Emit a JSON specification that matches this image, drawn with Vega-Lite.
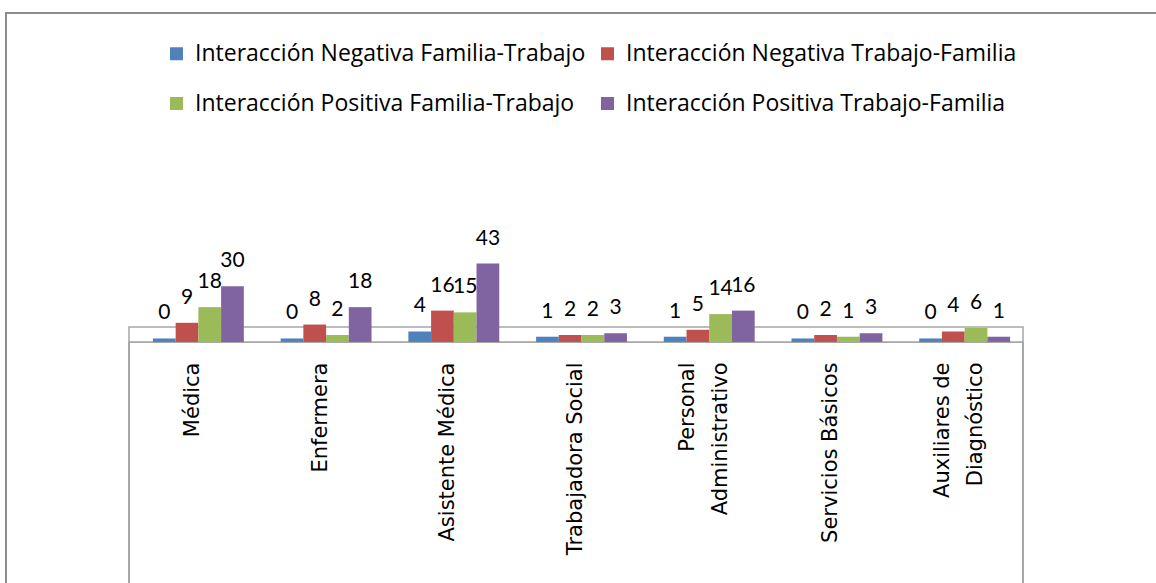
{
  "$schema": "https://vega.github.io/schema/vega-lite/v6.json",
  "width": 1160,
  "height": 590,
  "autosize": {"type": "none"},
  "padding": {"left": 6, "top": 13, "right": 0, "bottom": 0},
  "background": "white",
  "config": {
    "view": {"stroke": "#8c8c8c", "strokeWidth": 2},
    "font": "Lato"
  },
  "datasets": {
    "valores": [
      {"ocupacion": "Médica", "dimension": "Interacción Negativa Familia-Trabajo", "n": 0},
      {"ocupacion": "Médica", "dimension": "Interacción Negativa Trabajo-Familia", "n": 9},
      {"ocupacion": "Médica", "dimension": "Interacción Positiva Familia-Trabajo", "n": 18},
      {"ocupacion": "Médica", "dimension": "Interacción Positiva Trabajo-Familia", "n": 30},
      {"ocupacion": "Enfermera", "dimension": "Interacción Negativa Familia-Trabajo", "n": 0},
      {"ocupacion": "Enfermera", "dimension": "Interacción Negativa Trabajo-Familia", "n": 8},
      {"ocupacion": "Enfermera", "dimension": "Interacción Positiva Familia-Trabajo", "n": 2},
      {"ocupacion": "Enfermera", "dimension": "Interacción Positiva Trabajo-Familia", "n": 18},
      {"ocupacion": "Asistente Médica", "dimension": "Interacción Negativa Familia-Trabajo", "n": 4},
      {"ocupacion": "Asistente Médica", "dimension": "Interacción Negativa Trabajo-Familia", "n": 16},
      {"ocupacion": "Asistente Médica", "dimension": "Interacción Positiva Familia-Trabajo", "n": 15},
      {"ocupacion": "Asistente Médica", "dimension": "Interacción Positiva Trabajo-Familia", "n": 43},
      {"ocupacion": "Trabajadora Social", "dimension": "Interacción Negativa Familia-Trabajo", "n": 1},
      {"ocupacion": "Trabajadora Social", "dimension": "Interacción Negativa Trabajo-Familia", "n": 2},
      {"ocupacion": "Trabajadora Social", "dimension": "Interacción Positiva Familia-Trabajo", "n": 2},
      {"ocupacion": "Trabajadora Social", "dimension": "Interacción Positiva Trabajo-Familia", "n": 3},
      {"ocupacion": "Personal Administrativo", "dimension": "Interacción Negativa Familia-Trabajo", "n": 1},
      {"ocupacion": "Personal Administrativo", "dimension": "Interacción Negativa Trabajo-Familia", "n": 5},
      {"ocupacion": "Personal Administrativo", "dimension": "Interacción Positiva Familia-Trabajo", "n": 14},
      {"ocupacion": "Personal Administrativo", "dimension": "Interacción Positiva Trabajo-Familia", "n": 16},
      {"ocupacion": "Servicios Básicos", "dimension": "Interacción Negativa Familia-Trabajo", "n": 0},
      {"ocupacion": "Servicios Básicos", "dimension": "Interacción Negativa Trabajo-Familia", "n": 2},
      {"ocupacion": "Servicios Básicos", "dimension": "Interacción Positiva Familia-Trabajo", "n": 1},
      {"ocupacion": "Servicios Básicos", "dimension": "Interacción Positiva Trabajo-Familia", "n": 3},
      {"ocupacion": "Auxiliares de Diagnóstico", "dimension": "Interacción Negativa Familia-Trabajo", "n": 0},
      {"ocupacion": "Auxiliares de Diagnóstico", "dimension": "Interacción Negativa Trabajo-Familia", "n": 4},
      {"ocupacion": "Auxiliares de Diagnóstico", "dimension": "Interacción Positiva Familia-Trabajo", "n": 6},
      {"ocupacion": "Auxiliares de Diagnóstico", "dimension": "Interacción Positiva Trabajo-Familia", "n": 1}
    ],
    "marco": [
      {"primera": "Médica", "ultima": "Auxiliares de Diagnóstico"}
    ]
  },
  "layer": [
    {
      "data": {"name": "marco"},
      "mark": {"type": "rect", "fill": "white", "fillOpacity": 0, "stroke": "#8c8c8c", "strokeWidth": 1.5},
      "encoding": {
        "x": {"field": "primera", "type": "nominal", "bandPosition": 0,
              "scale": {"domain": ["Médica", "Enfermera", "Asistente Médica", "Trabajadora Social", "Personal Administrativo", "Servicios Básicos", "Auxiliares de Diagnóstico"], "range": [123, 1017], "paddingInner": 0, "paddingOuter": 0}},
        "x2": {"field": "ultima", "bandPosition": 1},
        "y": {"datum": -152, "type": "quantitative", "axis": null, "scale": {"domain": [-152, 187], "nice": false, "zero": false}},
        "y2": {"datum": -2}
      }
    },
    {
      "data": {"name": "marco"},
      "mark": {"type": "rect", "fill": "white", "stroke": "#a6a6a6", "strokeWidth": 1.5},
      "encoding": {
        "x": {"field": "primera", "type": "nominal", "bandPosition": 0,
              "scale": {"domain": ["Médica", "Enfermera", "Asistente Médica", "Trabajadora Social", "Personal Administrativo", "Servicios Básicos", "Auxiliares de Diagnóstico"], "range": [123, 1017], "paddingInner": 0, "paddingOuter": 0}},
        "x2": {"field": "ultima", "bandPosition": 1},
        "y": {"datum": -2, "type": "quantitative", "axis": null, "scale": {"domain": [-152, 187], "nice": false, "zero": false}},
        "y2": {"datum": 6.6}
      }
    },
    {
      "data": {"name": "valores"},
      "mark": {"type": "bar"},
      "encoding": {
        "x": {"field": "ocupacion", "type": "nominal",
              "scale": {"domain": ["Médica", "Enfermera", "Asistente Médica", "Trabajadora Social", "Personal Administrativo", "Servicios Básicos", "Auxiliares de Diagnóstico"], "range": [123, 1017], "paddingInner": 0, "paddingOuter": 0},
              "axis": {"orient": "bottom", "offset": -261, "domain": false, "ticks": false, "tickSize": 0, "grid": false, "title": null,
                       "labelPadding": 20, "labelAngle": -90, "labelFont": "DejaVu Sans", "labelFontSize": 21, "labelColor": "black",
                       "labelLimit": 400, "labelOverlap": false, "labelLineHeight": 33, "zindex": 1,
                       "labelOffset": {"condition": {"test": "datum.value == 'Personal Administrativo' || datum.value == 'Auxiliares de Diagnóstico'", "value": -16}, "value": 0},
                       "labelExpr": "datum.label == 'Personal Administrativo' ? ['Personal', 'Administrativo'] : datum.label == 'Auxiliares de Diagnóstico' ? ['Auxiliares de', 'Diagnóstico'] : datum.label"}},
        "xOffset": {"field": "dimension", "type": "nominal",
                    "scale": {"domain": ["Interacción Negativa Familia-Trabajo", "Interacción Negativa Trabajo-Familia", "Interacción Positiva Familia-Trabajo", "Interacción Positiva Trabajo-Familia"], "paddingInner": 0, "paddingOuter": 0.81, "align": 0.65}},
        "y": {"field": "n", "type": "quantitative", "axis": null, "scale": {"domain": [-152, 187], "nice": false, "zero": false}},
        "y2": {"datum": -2},
        "color": {"field": "dimension", "type": "nominal",
                  "scale": {"domain": ["Interacción Negativa Familia-Trabajo", "Interacción Negativa Trabajo-Familia", "Interacción Positiva Familia-Trabajo", "Interacción Positiva Trabajo-Familia"],
                            "range": ["#4F81BD", "#C0504D", "#9BBB59", "#8064A2"]},
                  "legend": {"orient": "none", "legendX": 159, "legendY": 29, "direction": "horizontal", "columns": 2, "title": null,
                             "symbolType": "square", "symbolSize": 169, "symbolStrokeWidth": 0, "symbolOpacity": 1,
                             "labelFont": "Open Sans", "labelFontSize": 23, "labelColor": "black", "labelOffset": 7, "labelLimit": 600,
                             "columnPadding": 10, "rowPadding": 26, "padding": 0}}
      }
    },
    {
      "data": {"name": "valores"},
      "mark": {"type": "text", "dy": -19, "baseline": "alphabetic", "font": "Lato", "fontSize": 21, "color": "black"},
      "encoding": {
        "x": {"field": "ocupacion", "type": "nominal",
              "scale": {"domain": ["Médica", "Enfermera", "Asistente Médica", "Trabajadora Social", "Personal Administrativo", "Servicios Básicos", "Auxiliares de Diagnóstico"], "range": [123, 1017], "paddingInner": 0, "paddingOuter": 0}},
        "xOffset": {"field": "dimension", "type": "nominal",
                    "scale": {"domain": ["Interacción Negativa Familia-Trabajo", "Interacción Negativa Trabajo-Familia", "Interacción Positiva Familia-Trabajo", "Interacción Positiva Trabajo-Familia"], "paddingInner": 0, "paddingOuter": 0.81, "align": 0.65}},
        "y": {"field": "n", "type": "quantitative", "scale": {"domain": [-152, 187], "nice": false, "zero": false}},
        "text": {"field": "n", "type": "quantitative"}
      }
    }
  ]
}
